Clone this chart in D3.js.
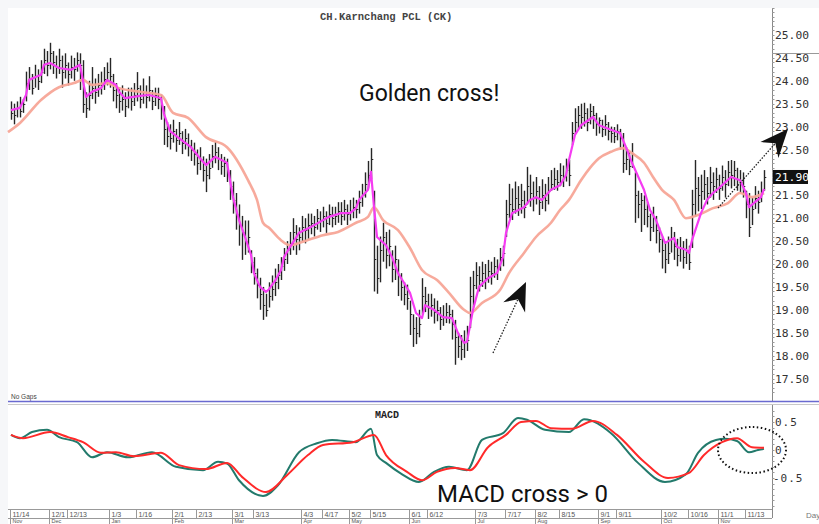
<!DOCTYPE html>
<html><head><meta charset="utf-8">
<script src="https://cdn.jsdelivr.net/npm/d3@7"></script>
<style>
html,body{margin:0;padding:0;background:#f6f7f9;}
svg{display:block;}
</style></head><body>
<svg id="c" width="819" height="524"></svg>
<script>
// ---------- DATA ----------
const closes = [
23.30,23.25,23.40,23.35,23.50,23.95,24.05,23.85,24.10,24.00,
24.20,24.45,24.35,24.60,24.40,24.30,24.45,24.20,24.35,24.15,
24.30,24.25,24.45,24.35,23.50,23.40,23.70,23.85,23.75,23.90,
23.95,24.05,24.20,24.10,23.80,23.70,23.55,23.60,23.45,23.65,
23.55,23.70,23.85,23.60,23.75,23.65,23.80,23.55,23.70,23.60,
23.40,22.95,22.80,22.75,22.90,22.70,22.85,22.65,22.75,22.60,
22.50,22.40,22.20,22.30,22.05,21.95,22.10,22.35,22.45,22.30,
22.15,22.20,22.00,21.70,21.40,21.10,20.85,20.70,20.50,20.60,
20.05,19.80,19.55,19.35,19.10,19.00,19.30,19.45,19.60,19.75,
19.95,20.10,20.30,20.45,20.70,20.55,20.60,20.80,20.75,20.85,
20.90,20.80,21.00,20.95,21.05,20.90,21.10,21.00,21.05,21.15,
21.05,21.20,21.10,21.15,21.25,21.20,21.35,21.50,21.75,21.95,
22.30,20.10,19.70,20.30,20.60,20.20,20.40,19.90,20.10,19.75,
19.50,19.35,19.25,18.90,18.60,18.50,18.70,19.30,19.20,19.05,
19.10,18.95,19.00,18.80,18.85,18.95,18.90,18.70,18.40,18.20,
18.15,18.30,18.35,19.30,19.55,19.75,19.65,19.80,19.70,19.85,
19.80,19.95,19.90,20.15,20.25,21.10,21.30,21.20,21.45,21.30,
21.40,21.25,21.70,21.55,21.45,21.60,21.35,21.50,21.40,21.60,
21.75,21.85,21.80,21.95,21.90,22.05,21.95,22.85,23.10,23.25,
23.20,23.30,23.10,23.35,23.25,23.05,23.15,22.95,23.05,22.90,
22.85,22.80,22.90,22.75,22.20,22.30,22.15,22.40,21.50,21.30,
21.40,21.20,21.05,20.80,21.00,20.75,20.55,20.30,20.10,20.25,
20.55,20.40,20.20,20.35,20.15,20.30,20.05,21.30,21.65,21.50,
21.60,21.75,21.55,21.80,21.70,21.85,21.65,21.90,21.75,22.00,
21.95,22.05,21.85,21.80,21.70,21.30,20.80,21.20,21.45,21.35,21.60,21.90];
const highs = [
23.55,23.50,23.55,23.65,23.60,24.20,24.30,24.15,24.35,24.25,
24.45,24.70,24.65,24.83,24.65,24.55,24.70,24.55,24.60,24.40,
24.55,24.50,24.62,24.60,24.45,23.75,24.00,24.30,24.05,24.15,
24.20,24.30,24.40,24.50,24.15,23.95,23.85,23.90,23.75,23.85,
23.85,23.95,24.19,23.90,24.05,23.90,24.10,23.80,23.85,23.85,
23.70,23.45,23.10,23.05,23.15,22.95,23.10,22.90,22.95,22.85,
22.71,22.65,22.50,22.55,22.35,22.30,22.40,22.60,22.66,22.55,
22.40,22.34,22.30,22.05,21.80,21.55,21.30,21.05,20.95,20.95,
20.30,20.15,19.90,19.70,19.50,19.35,19.60,19.75,19.90,20.00,
20.15,20.35,20.50,20.70,21.00,20.85,20.80,21.05,21.00,21.10,
21.10,21.05,21.20,21.15,21.25,21.15,21.30,21.25,21.25,21.35,
21.35,21.40,21.30,21.40,21.45,21.40,21.60,21.75,22.00,22.25,
22.53,21.60,20.40,20.60,20.90,20.70,20.75,20.30,20.40,20.10,
19.80,19.60,19.55,19.20,18.90,18.84,19.00,19.69,19.50,19.35,
19.35,19.25,19.20,19.06,19.10,19.15,19.10,19.00,18.78,18.50,
18.45,18.55,18.65,19.72,19.85,20.04,19.95,20.05,20.00,20.09,
20.05,20.15,20.10,20.35,20.40,21.40,21.75,21.65,21.80,21.70,
21.75,21.60,22.12,21.95,21.80,21.90,21.70,21.85,21.75,21.90,
22.05,22.10,22.05,22.20,22.15,22.30,22.27,23.10,23.40,23.45,
23.50,23.52,23.40,23.50,23.45,23.30,23.20,23.15,23.25,23.10,
23.00,22.99,23.05,22.95,22.86,22.55,22.45,22.64,22.00,21.60,
21.55,21.50,21.35,21.10,21.25,21.05,20.80,20.60,20.50,20.60,
20.81,20.70,20.55,20.59,20.50,20.55,20.40,21.62,22.27,21.90,
21.95,22.05,21.90,22.12,22.00,22.10,21.95,22.15,22.05,22.25,
22.27,22.25,22.10,22.05,22.00,21.60,21.55,21.45,21.70,21.60,21.80,22.05];
const lows = [
23.15,23.05,23.20,23.20,23.30,23.55,23.80,23.70,23.85,23.80,
23.95,24.15,24.10,24.25,24.15,24.05,24.15,23.85,24.05,23.90,
24.05,24.00,24.20,23.80,23.30,23.19,23.35,23.60,23.50,23.65,
23.70,23.80,23.90,23.85,23.55,23.40,23.30,23.35,23.21,23.40,
23.35,23.45,23.55,23.40,23.50,23.40,23.55,23.36,23.45,23.38,
23.15,22.60,22.55,22.50,22.65,22.45,22.60,22.40,22.50,22.35,
22.25,22.15,21.95,22.05,21.80,21.57,21.85,22.10,22.20,22.05,
21.95,21.90,21.79,21.40,21.10,20.75,20.40,20.09,20.20,20.25,
19.80,19.55,19.25,19.00,18.78,18.85,19.05,19.20,19.30,19.45,
19.65,19.85,20.00,20.20,20.30,20.20,20.30,20.50,20.45,20.55,
20.65,20.60,20.75,20.70,20.80,20.68,20.85,20.80,20.85,20.90,
20.85,20.95,20.85,20.95,21.00,21.00,21.10,21.25,21.45,21.65,
21.85,19.40,19.35,19.60,20.05,19.90,19.95,19.60,19.65,19.30,
19.20,19.10,19.00,18.45,18.19,18.25,18.40,18.90,18.95,18.80,
18.85,18.70,18.75,18.56,18.65,18.71,18.70,18.35,17.80,17.95,
17.90,17.95,18.10,18.60,19.05,19.45,19.40,19.50,19.45,19.59,
19.55,19.70,19.65,19.85,19.95,20.59,21.00,20.96,21.10,21.05,
21.10,21.00,21.30,21.25,21.15,21.30,21.07,21.20,21.15,21.30,
21.60,21.62,21.60,21.70,21.68,21.80,21.70,22.60,22.85,22.95,
22.95,23.00,22.90,23.05,22.95,22.80,22.85,22.77,22.80,22.70,
22.65,22.64,22.70,22.50,21.99,22.05,21.94,22.10,20.90,21.00,
20.70,20.85,20.80,20.50,20.70,20.45,20.25,19.90,19.80,20.00,
20.25,20.09,19.95,20.05,19.90,20.00,19.87,20.35,21.03,21.15,
21.20,21.40,21.30,21.45,21.40,21.55,21.40,21.60,21.45,21.70,
21.65,21.70,21.60,21.55,21.45,21.00,20.59,20.85,21.20,21.10,21.35,21.60];

// short moving average (magenta) sampled at bar indexes
const maFastIdx = [0,3,5,6,10,11,13,16,20,23,25,27,30,32,35,36,38,43,46,50,51,53,56,60,63,65,68,72,74,76,78,80,81,83,85,86,88,90,91,93,96,100,103,106,110,113,115,116,119,120,121,122,125,127,129,131,133,135,137,138,141,144,147,149,151,152,154,156,159,162,164,165,167,171,173,175,177,180,183,185,186,188,190,194,196,200,203,205,207,211,213,215,218,221,222,225,226,227,230,232,234,236,240,243,245,246,248,250,251];
const maFastVal = [23.36,23.41,23.69,24.02,24.13,24.35,24.39,24.28,24.24,24.35,23.65,23.76,23.84,24.02,23.91,23.76,23.62,23.67,23.69,23.62,23.28,22.90,22.75,22.55,22.31,22.16,22.34,22.21,21.46,20.96,20.59,20.20,19.80,19.50,19.39,19.45,19.63,19.87,20.15,20.37,20.68,20.81,20.92,21.03,21.11,21.11,21.22,21.40,21.62,22.01,21.24,20.59,20.41,20.15,19.80,19.59,19.37,18.93,18.82,19.10,19.00,18.84,18.82,18.49,18.28,18.30,19.00,19.50,19.69,19.80,20.15,20.68,21.11,21.24,21.40,21.46,21.40,21.62,21.72,21.94,22.27,22.82,23.03,23.21,23.03,22.93,22.86,22.55,22.21,21.62,21.18,20.96,20.46,20.57,20.37,20.31,20.24,20.52,21.11,21.40,21.55,21.66,21.90,21.83,21.55,21.24,21.35,21.46,21.64];

// long moving average (salmon) sampled at bar indexes
const maSlowIdx = [-1,3,10,16,21,24,27,32,36,43,50,54,59,65,72,79,82,84,86,90,93,97,104,109,115,119,121,124,129,133,137,142,146,151,153,157,163,166,171,175,180,183,186,190,193,196,200,204,207,211,214,217,221,225,229,234,239,243,247,251];
const maSlowVal = [22.88,23.08,23.58,23.86,23.95,24.02,23.91,23.95,23.84,23.76,23.69,23.30,23.19,22.77,22.55,21.83,21.40,20.90,20.79,20.52,20.41,20.48,20.63,20.70,20.90,21.03,21.24,20.96,20.74,20.35,19.87,19.65,19.37,19.00,18.93,19.15,19.43,19.80,20.24,20.59,20.90,21.18,21.40,21.83,22.10,22.31,22.45,22.53,22.42,22.21,21.90,21.62,21.40,21.00,21.07,21.22,21.33,21.55,21.46,21.55];

// MACD (teal) and signal (red), sampled at bar indexes
const macdIdx = [0,3,7,12,16,22,27,32,39,47,55,64,69,72,76,84,89,96,102,107,115,120,122,125,130,136,141,146,152,157,164,169,172,178,186,191,200,209,218,225,229,235,238,242,246,249,251];
const macdVal = [0.27,0.21,0.32,0.36,0.23,0.14,-0.13,-0.04,-0.13,-0.04,-0.30,-0.36,-0.21,-0.24,-0.54,-0.82,-0.63,-0.04,0.12,0.18,0.14,0.38,-0.09,-0.23,-0.42,-0.57,-0.39,-0.30,-0.36,0.18,0.30,0.57,0.54,0.36,0.32,0.55,0.30,-0.23,-0.57,-0.43,-0.05,0.18,0.20,0.16,-0.04,0.00,0.02];
const signalIdx = [0,4,13,19,24,30,35,41,50,56,65,72,77,85,92,99,104,114,121,125,132,137,142,148,153,159,165,170,175,180,187,194,202,211,219,226,231,237,242,247,251];
const signalVal = [0.27,0.21,0.32,0.23,0.14,-0.05,-0.04,-0.11,-0.05,-0.27,-0.34,-0.23,-0.48,-0.75,-0.45,-0.09,0.09,0.14,0.27,-0.09,-0.39,-0.54,-0.39,-0.32,-0.36,0.05,0.27,0.50,0.52,0.39,0.38,0.52,0.27,-0.21,-0.50,-0.41,-0.09,0.14,0.21,0.05,0.04];

// 22.00 sits behind the last-price badge in the reference, so it is not listed
const priceTicks = [25.00,24.50,24.00,23.50,23.00,22.50,21.50,21.00,20.50,20.00,19.50,19.00,18.50,18.00,17.50];
const macdTicks = [0.5,0,-0.5];
const dateTickIdx = [0,13,19,33,42,54,62,74,81,97,104,113,120,133,139,155,165,175,183,196,202,217,226,236,245];
const dateTickLabels = ["11/14","12/1","12/13","1/3","1/16","2/1","2/13","3/1","3/13","4/3","4/17","5/2","5/15","6/1","6/12","7/3","7/17","8/2","8/15","9/1","9/11","10/2","10/16","11/1","11/13"];
const monthIdx = [0,13,33,54,74,97,113,133,155,175,196,217,236];
const monthLabels = ["Nov","Dec","Jan","Feb","Mar","Apr","May","Jun","Jul","Aug","Sep","Oct","Nov"];
const lastPrice = 21.90;
const title = "CH.Karnchang PCL (CK)";

// ---------- DRAWING ----------
const svg = d3.select("#c");
const N = closes.length;
const axisX = 772;
const x = d3.scaleLinear().domain([0, N - 1]).range([11, 764]);
const yP = d3.scaleLinear().domain([17.5, 25]).range([378.5, 35]);
const yM = d3.scaleLinear().domain([-0.5, 0.5]).range([478, 422]);
const px = i => Math.round(x(i)) + 0.5;

svg.append("rect").attr("x", 8).attr("y", 8).attr("width", 811).attr("height", 516).attr("fill", "#fff");

// title
svg.append("text").attr("x", 320).attr("y", 20).attr("font-family", "Liberation Mono, DejaVu Sans Mono, monospace")
  .attr("font-weight", "bold").attr("font-size", 10.5).attr("fill", "#444").text(title);

// price axis
svg.append("line").attr("x1", axisX + 0.5).attr("x2", axisX + 0.5).attr("y1", 8).attr("y2", 401)
  .attr("stroke", "#888").attr("stroke-width", 1);
svg.append("g").selectAll("line").data(d3.range(17.2, 25.6, 0.1)).join("line")
  .attr("x1", axisX).attr("x2", axisX + 2.5).attr("y1", d => Math.round(yP(d)) + 0.5).attr("y2", d => Math.round(yP(d)) + 0.5)
  .attr("stroke", "#999").attr("stroke-width", 1);
svg.append("line").attr("x1", axisX).attr("x2", 819).attr("y1", 53.5).attr("y2", 53.5).attr("stroke", "#999");
svg.append("g").selectAll("text").data(priceTicks).join("text")
  .attr("x", axisX + 3).attr("y", d => yP(d) + 4)
  .attr("font-family", "DejaVu Sans Mono, monospace").attr("font-size", 11.3).attr("fill", "#333")
  .text(d => d3.format(".2f")(d));

// bars
const bars = svg.append("g");
bars.selectAll("line.hl").data(closes).join("line").attr("class", "hl")
  .attr("x1", (d, i) => px(i)).attr("x2", (d, i) => px(i))
  .attr("y1", (d, i) => yP(highs[i])).attr("y2", (d, i) => yP(lows[i]))
  .attr("stroke", "#262626").attr("stroke-width", 1.4);
bars.selectAll("line.cl").data(closes).join("line").attr("class", "cl")
  .attr("x1", (d, i) => px(i)).attr("x2", (d, i) => px(i) + 1.8)
  .attr("y1", d => Math.round(yP(d)) + 0.5).attr("y2", d => Math.round(yP(d)) + 0.5)
  .attr("stroke", "#262626").attr("stroke-width", 1);

// moving averages
const slowLine = d3.line().x(d => Math.max(8, x(d[0]))).y(d => yP(d[1])).curve(d3.curveMonotoneX);
svg.append("path").attr("d", slowLine(maSlowIdx.map((d, i) => [d, maSlowVal[i]])))
  .attr("fill", "none").attr("stroke", "#f7a597").attr("stroke-width", 2.6).attr("opacity", 0.95);
const fastLine = d3.line().x(d => x(d[0])).y(d => yP(d[1]));
svg.append("path").attr("d", fastLine(maFastIdx.map((d, i) => [d, maFastVal[i]])))
  .attr("fill", "none").attr("stroke", "#f53cf2").attr("stroke-width", 2.2).attr("stroke-linejoin", "round");

// last price badge
svg.append("rect").attr("x", axisX + 1).attr("y", yP(lastPrice) - 7).attr("width", 35).attr("height", 14).attr("fill", "#111");
svg.append("text").attr("x", axisX + 3).attr("y", yP(lastPrice) + 4)
  .attr("font-family", "DejaVu Sans Mono, monospace").attr("font-size", 11.3).attr("fill", "#fff")
  .text(d3.format(".2f")(lastPrice));

// annotations
svg.append("text").attr("x", 359).attr("y", 101).attr("font-family", "Roboto, sans-serif")
  .attr("font-size", 23).attr("fill", "#111").text("Golden cross!");

function arrow(x1, y1, x2, y2) {
  const dx = x2 - x1, dy = y2 - y1, L = Math.hypot(dx, dy), ux = dx / L, uy = dy / L;
  const bx = x2 - 28 * ux, by = y2 - 28 * uy, nx = x2 - 19 * ux, ny = y2 - 19 * uy;
  svg.append("line").attr("x1", x1).attr("y1", y1).attr("x2", nx).attr("y2", ny)
    .attr("stroke", "#222").attr("stroke-width", 1.3).attr("stroke-dasharray", "1.5,1.5");
  svg.append("path").attr("d", `M${x2},${y2} L${bx - 12 * uy},${by + 12 * ux} L${nx},${ny} L${bx + 12 * uy},${by - 12 * ux} Z`)
    .attr("fill", "#111");
}
arrow(493, 353, 526, 282);
arrow(718, 208, 788, 129);

// panel separator
svg.append("text").attr("x", 11).attr("y", 399).attr("font-family", "Liberation Sans, Arial, sans-serif")
  .attr("font-size", 6.5).attr("fill", "#444").text("No Gaps");
svg.append("line").attr("x1", 8).attr("x2", 819).attr("y1", 401.5).attr("y2", 401.5).attr("stroke", "#6a6ad0").attr("stroke-width", 1.6);
svg.append("line").attr("x1", 8).attr("x2", 819).attr("y1", 404.5).attr("y2", 404.5).attr("stroke", "#c8c8c8").attr("stroke-width", 1);

// MACD panel
svg.append("text").attr("x", 375).attr("y", 418).attr("font-family", "Liberation Mono, DejaVu Sans Mono, monospace")
  .attr("font-weight", "bold").attr("font-size", 10).attr("fill", "#222").text("MACD");
svg.append("line").attr("x1", axisX + 0.5).attr("x2", axisX + 0.5).attr("y1", 405).attr("y2", 518)
  .attr("stroke", "#888");
svg.append("g").selectAll("line").data(d3.range(-1.0, 1.01, 0.1).filter(v => yM(v) > 406 && yM(v) < 508)).join("line")
  .attr("x1", axisX).attr("x2", axisX + 2.5).attr("y1", d => Math.round(yM(d)) + 0.5).attr("y2", d => Math.round(yM(d)) + 0.5)
  .attr("stroke", "#999");
svg.append("g").selectAll("text").data(macdTicks).join("text")
  .attr("x", d => d < 0 ? axisX + 1 : axisX + 3).attr("y", d => yM(d) + 4)
  .attr("font-family", "DejaVu Sans Mono, monospace").attr("font-size", 11).attr("letter-spacing", 1).attr("fill", "#333")
  .text(d => d === 0 ? "0" : d3.format(".1f")(d).replace("−", "-"));

const macdLine = d3.line().x(d => x(d[0])).y(d => yM(d[1])).curve(d3.curveMonotoneX);
svg.append("path").attr("d", macdLine(macdIdx.map((d, i) => [d, macdVal[i]])))
  .attr("fill", "none").attr("stroke", "#237a6c").attr("stroke-width", 2);
svg.append("path").attr("d", macdLine(signalIdx.map((d, i) => [d, signalVal[i]])))
  .attr("fill", "none").attr("stroke", "#ff2a2a").attr("stroke-width", 2);

svg.append("ellipse").attr("cx", 752).attr("cy", 450).attr("rx", 34).attr("ry", 23)
  .attr("fill", "none").attr("stroke", "#111").attr("stroke-width", 2).attr("stroke-dasharray", "1.5,2.5");

svg.append("text").attr("x", 437).attr("y", 502).attr("font-family", "Roboto, sans-serif")
  .attr("font-size", 24).attr("fill", "#111").text("MACD cross > 0");

// date axis
const dA = svg.append("g");
dA.append("line").attr("x1", 8).attr("x2", axisX).attr("y1", 509.5).attr("y2", 509.5).attr("stroke", "#999");
dA.append("line").attr("x1", 8).attr("x2", axisX).attr("y1", 518.5).attr("y2", 518.5).attr("stroke", "#999");
dA.selectAll("line.dt").data(dateTickIdx).join("line").attr("class", "dt")
  .attr("x1", d => px(d) - 1).attr("x2", d => px(d) - 1).attr("y1", 509).attr("y2", 518).attr("stroke", "#999");
dA.selectAll("text.dt").data(dateTickIdx).join("text").attr("class", "dt")
  .attr("x", d => px(d) + 1).attr("y", 516.5)
  .attr("font-family", "Liberation Sans, Arial, sans-serif").attr("font-size", 7).attr("fill", "#555")
  .text((d, i) => dateTickLabels[i]);
dA.selectAll("line.mt").data(monthIdx).join("line").attr("class", "mt")
  .attr("x1", d => px(d) - 1).attr("x2", d => px(d) - 1).attr("y1", 518).attr("y2", 524).attr("stroke", "#999");
dA.selectAll("text.mt").data(monthIdx).join("text").attr("class", "mt")
  .attr("x", d => px(d) + 1).attr("y", 522.5)
  .attr("font-family", "Liberation Sans, Arial, sans-serif").attr("font-size", 5.5).attr("fill", "#555")
  .text((d, i) => monthLabels[i]);
svg.append("text").attr("x", 806).attr("y", 518).attr("font-family", "Liberation Sans, Arial, sans-serif")
  .attr("font-size", 8).attr("fill", "#777").text("Day");
</script>
</body></html>
